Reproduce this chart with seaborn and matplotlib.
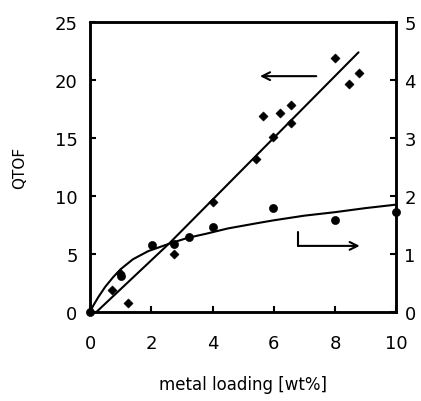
import numpy as np
import pandas as pd
import matplotlib
matplotlib.use('Agg')
import matplotlib.pyplot as plt
import seaborn as sns

# QTOF data (left axis), diamonds
qtof_x = [0.73, 0.98, 1.25, 2.74, 4.03, 5.41, 5.66, 5.98, 6.19, 6.57, 6.57, 7.99, 8.47, 8.78]
qtof_y = [1.9, 3.4, 0.8, 5.0, 9.5, 13.2, 16.9, 15.1, 17.1, 17.8, 16.3, 21.85, 19.6, 20.6]

# right axis data, filled circles
right_x = [0.0, 1.02, 2.03, 2.74, 3.23, 4.03, 5.98, 7.99, 9.98]
right_y = [0.0, 0.62, 1.15, 1.18, 1.30, 1.47, 1.79, 1.59, 1.72]

# fitted line (left axis)
fit_x = [0.2, 2.6, 8.77]
fit_y = [0.0, 5.95, 22.35]

# fitted curve (right axis)
curve_x = [0.0, 0.1, 0.27, 0.5, 0.75, 1.0, 1.4, 1.9, 2.6, 3.2, 3.8, 4.5, 5.45, 6.0, 7.0, 8.0, 9.0, 10.0]
curve_y = [0.0, 0.11, 0.26, 0.44, 0.6, 0.74, 0.91, 1.05, 1.18, 1.28, 1.35, 1.44, 1.53, 1.58, 1.66, 1.72, 1.79, 1.85]

sns.set_style('ticks')
plt.rcParams['font.family'] = ['DejaVu Sans']
plt.rcParams['axes.edgecolor'] = 'black'
plt.rcParams['xtick.color'] = 'black'
plt.rcParams['ytick.color'] = 'black'
plt.rcParams['text.color'] = 'black'
plt.rcParams['axes.labelcolor'] = 'black'

fig = plt.figure(figsize=(4.21, 4.02), dpi=100)
ax = fig.add_axes([0.214, 0.221, 0.727, 0.723])
ax2 = ax.twinx()

sns.lineplot(x=fit_x, y=fit_y, ax=ax, color='black', linewidth=1.5)
sns.scatterplot(x=qtof_x, y=qtof_y, ax=ax, marker='D', s=22, color='black',
                edgecolor='black', clip_on=False, zorder=3)

sns.lineplot(x=curve_x, y=curve_y, ax=ax2, color='black', linewidth=1.5)
sns.scatterplot(x=right_x, y=right_y, ax=ax2, marker='o', s=34, color='black',
                edgecolor='black', clip_on=False, zorder=3)

ax.set_xlim(0, 10)
ax.set_ylim(0, 25)
ax2.set_ylim(0, 5)
ax.set_xticks([0, 2, 4, 6, 8, 10])
ax.set_yticks([0, 5, 10, 15, 20, 25])
ax2.set_yticks([0, 1, 2, 3, 4, 5])

ax.tick_params(axis='x', direction='in', length=4, width=1.5, pad=16, labelsize=13)
ax.tick_params(axis='y', direction='in', length=4, width=1.5, pad=9, labelsize=13)
ax2.tick_params(axis='y', direction='in', length=4, width=1.5, pad=6, labelsize=13)

for a in (ax, ax2):
    for s in a.spines.values():
        s.set_visible(True)
        s.set_linewidth(1.8)
        s.set_color('black')

ax.set_xlabel('metal loading [wt%]', fontsize=12, labelpad=16)
ax.set_ylabel('QTOF', fontsize=11, labelpad=20)

# arrows pointing to the axes
ax.annotate('', xy=(5.46, 20.3), xytext=(7.48, 20.3),
            arrowprops=dict(arrowstyle='->', color='black', lw=1.5,
                            mutation_scale=14))
ax.plot([6.8, 6.8], [6.9, 5.7], color='black', linewidth=1.5)
ax.annotate('', xy=(8.9, 5.7), xytext=(6.8, 5.7),
            arrowprops=dict(arrowstyle='->', color='black', lw=1.5,
                            mutation_scale=14, shrinkA=0))

fig.savefig('out.png', dpi=100)
